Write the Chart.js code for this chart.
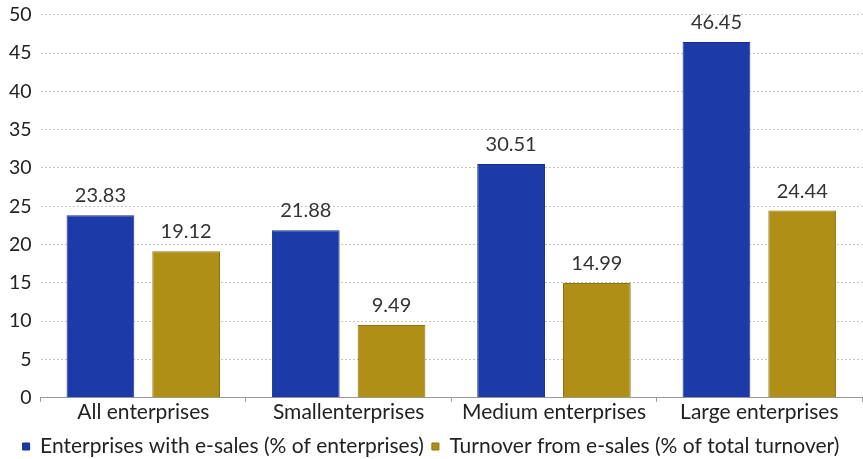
<!DOCTYPE html>
<html>
<head>
<meta charset="utf-8">
<script src="https://cdn.jsdelivr.net/npm/chart.js@4"></script>
<style>
  html, body { margin: 0; padding: 0; background: #fff; overflow: hidden; }
  #wrap { width: 863px; height: 465px; margin-top: -6px; }
</style>
</head>
<body>
<div id="wrap"><canvas id="chart"></canvas></div>
<script>
const categories = ["All enterprises", "Smallenterprises", "Medium enterprises", "Large enterprises"];
const seriesNames = ["Enterprises with e-sales (% of enterprises)", "Turnover from e-sales (% of total turnover)"];
const eSalesShare = [23.83, 21.88, 30.51, 46.45];
const turnoverShare = [19.12, 9.49, 14.99, 24.44];
const yTicks = [0, 5, 10, 15, 20, 25, 30, 35, 40, 45, 50];

const FONT = "Lato, 'Open Sans', sans-serif";

// etiquetas de valor encima de cada barra
const valueLabels = {
  id: "valueLabels",
  afterDatasetsDraw(chart) {
    const ctx = chart.ctx;
    ctx.save();
    ctx.font = "20px " + FONT;
    ctx.fillStyle = "#333";
    ctx.textAlign = "center";
    ctx.textBaseline = "alphabetic";
    chart.data.datasets.forEach((ds, i) => {
      chart.getDatasetMeta(i).data.forEach((bar, j) => {
        ctx.fillText(ds.data[j].toFixed(2), bar.x, bar.y - 13);
      });
    });
    ctx.restore();
  },
};

new Chart(document.getElementById("chart"), {
  type: "bar",
  data: {
    labels: categories,
    datasets: [
      {
        label: seriesNames[0],
        data: eSalesShare,
        backgroundColor: "#1c3aa8",
        borderColor: "#17308f",
        borderWidth: 1,
      },
      {
        label: seriesNames[1],
        data: turnoverShare,
        backgroundColor: "#b08f17",
        borderColor: "#8e7312",
        borderWidth: 1,
      },
    ],
  },
  options: {
    responsive: true,
    maintainAspectRatio: false,
    animation: false,
    categoryPercentage: 0.835,
    barPercentage: 0.79,
    layout: { padding: { top: 0, right: 1, left: 0, bottom: -8 } },
    scales: {
      x: {
        afterFit: (axis) => { axis.height += 5; },
        grid: {
          offset: true,
          drawOnChartArea: false,
          tickLength: 4,
          color: "#999",
        },
        border: { color: "#999", width: 1 },
        ticks: { color: "#222", font: { family: FONT, size: 21 }, padding: -2 },
      },
      y: {
        min: 0,
        max: 50,
        afterBuildTicks: (axis) => {
          axis.ticks = yTicks.map((v) => ({ value: v }));
        },
        grid: { color: "#c4c4c4", lineWidth: 1, drawTicks: false },
        border: { display: false, dash: [2, 2] },
        ticks: { color: "#222", font: { family: FONT, size: 19.5 }, padding: 9 },
      },
    },
    plugins: {
      legend: {
        position: "bottom",
        labels: {
          color: "#222",
          font: { family: FONT, size: 21 },
          boxWidth: 7,
          boxHeight: 7,
          padding: 8,
          useBorderRadius: false,
        },
      },
      tooltip: { enabled: false },
    },
  },
  plugins: [valueLabels],
});
</script>
</body>
</html>
